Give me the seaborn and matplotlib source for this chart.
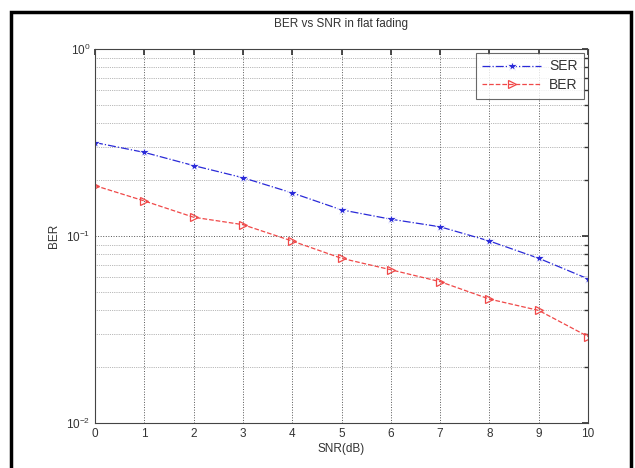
import matplotlib
matplotlib.use('Agg')
import matplotlib.pyplot as plt
import matplotlib.patches as patches
import numpy as np
import pandas as pd
import seaborn as sns

# data
snr_db = [0, 1, 2, 3, 4, 5, 6, 7, 8, 9, 10]
ser = [0.316, 0.28, 0.238, 0.205, 0.17, 0.138, 0.123, 0.112, 0.094, 0.076, 0.059]
ber = [0.186, 0.154, 0.126, 0.115, 0.094, 0.076, 0.066, 0.057, 0.046, 0.040, 0.029]

df_ser = pd.DataFrame({'snr': snr_db, 'val': ser})
df_ber = pd.DataFrame({'snr': snr_db, 'val': ber})

sns.set_theme(style='white')
plt.rcParams['font.family'] = ['Liberation Sans', 'DejaVu Sans']
plt.rcParams['font.size'] = 8

fig = plt.figure(figsize=(6.35, 4.68), dpi=100)
ax = fig.add_axes([95 / 635, 1 - 423 / 468, (588 - 95) / 635, (423 - 49) / 468])

sns.lineplot(x='snr', y='val', data=df_ser, ax=ax, color='#2a2ad8', linestyle='-.',
             linewidth=0.9, marker='*', markersize=7, markeredgewidth=0.6, label='SER')
sns.lineplot(x='snr', y='val', data=df_ber, ax=ax, color='#f04848', linestyle='--',
             linewidth=0.9, marker='>', markersize=6, markerfacecolor='none',
             markeredgecolor='#f04848', markeredgewidth=0.9, label='BER')

ax.set_yscale('log')
ax.set_ylim(1e-2, 1)
ax.set_xlim(0, 10)
ax.set_xticks(snr_db)
ax.grid(True, which='major', linestyle=':', color='#555555', linewidth=0.7)
ax.grid(True, which='minor', axis='y', linestyle=':', color='#777777', linewidth=0.5)
ax.tick_params(which='both', direction='in', top=True, right=True, labelsize=8.5,
               colors='#333333', length=3)
ax.tick_params(which='major', length=4)
for s in ax.spines.values():
    s.set_color('#444444')
    s.set_linewidth(0.8)

ax.set_title('BER vs SNR in flat fading', fontsize=8.5, color='#333333', pad=16)
ax.set_xlabel('SNR(dB)', fontsize=8.5, color='#333333', labelpad=2)
ax.set_ylabel('BER', fontsize=8.5, color='#333333', labelpad=4)

leg = ax.legend(loc='upper right', fontsize=10, frameon=True, fancybox=False,
                borderaxespad=0.3, handlelength=4.2, labelspacing=0.35,
                borderpad=0.45, handletextpad=0.6)
leg.get_frame().set_edgecolor('#444444')
leg.get_frame().set_linewidth(0.8)
for t in leg.get_texts():
    t.set_color('#333333')

# outer frame around the figure
fig.patches.append(patches.Rectangle((11 / 635, -0.01), (631 - 11) / 635, 1 - 12 / 468 + 0.01,
                                     transform=fig.transFigure, fill=False,
                                     edgecolor='black', linewidth=2.5))

fig.savefig('out.png', dpi=100)
